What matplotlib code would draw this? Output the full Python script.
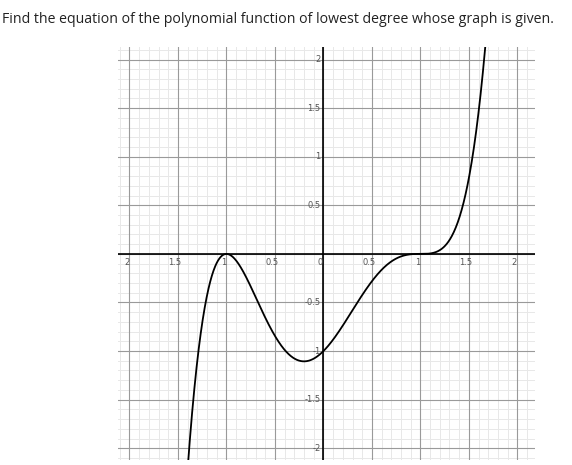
import numpy as np
import matplotlib.pyplot as plt

roots = [-1.0, 1.0]
multiplicities = [2, 3]
x_ticks = [-2, -1.5, -1, -0.5, 0, 0.5, 1, 1.5, 2]
x_labels = ["2", "1.5", "1", "0.5", "0", "0.5", "1", "1.5", "2"]
y_ticks = [-2, -1.5, -1, -0.5, 0.5, 1, 1.5, 2]
y_labels = ["-2", "-1.5", "-1", "-0.5", "0.5", "1", "1.5", "2"]
title = "Find the equation of the polynomial function of lowest degree whose graph is given."

fig = plt.figure(figsize=(5.72, 4.65), dpi=100)
fig.text(0.003, 0.975, title, fontsize=10.2, family="Open Sans", va="top", ha="left", color="#222222")
ax = fig.add_axes([0.206, 0.011, 0.729, 0.888])
ax.set_xlim(-2.12, 2.18)
ax.set_ylim(-2.12, 2.13)

for v in np.arange(-2.1, 2.2, 0.1):
    ax.axvline(v, color="#e8e8e8", lw=0.7, zorder=0)
    ax.axhline(v, color="#e8e8e8", lw=0.7, zorder=0)
for v in np.arange(-2, 2.01, 0.5):
    ax.axvline(v, color="#9a9a9a", lw=0.8, zorder=1)
    ax.axhline(v, color="#9a9a9a", lw=0.8, zorder=1)
ax.axhline(0, color="black", lw=1.2, zorder=2)
ax.axvline(0, color="black", lw=1.2, zorder=2)

x = np.linspace(-2.12, 2.18, 1500)
y = np.ones_like(x)
for r, m in zip(roots, multiplicities):
    y = y * (x - r) ** m
ax.plot(x, y, color="black", lw=1.3, zorder=3)

for t, l in zip(x_ticks, x_labels):
    ax.text(t - 0.03, -0.04, l, fontsize=6, color="#555555", ha="center", va="top", zorder=4)
for t, l in zip(y_ticks, y_labels):
    ax.text(-0.03, t, l, fontsize=6, color="#555555", ha="right", va="center", zorder=4)

ax.set_xticks([]); ax.set_yticks([])
for s in ax.spines.values():
    s.set_visible(False)
fig.savefig("out.png", dpi=100)
